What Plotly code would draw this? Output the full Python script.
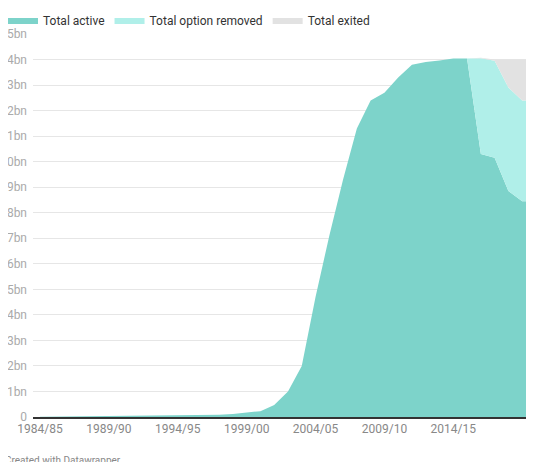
import plotly.graph_objects as go

years = list(range(1984, 2021))
active = [0.005, 0.01, 0.015, 0.02, 0.025, 0.03, 0.035, 0.04, 0.05, 0.055, 0.06, 0.065, 0.07, 0.09, 0.12, 0.16, 0.23,
          0.47, 1.0, 2.0, 4.7, 7.1, 9.3, 11.3, 12.4, 12.7, 13.3, 13.8, 13.9, 13.96, 14.04, 14.04,
          10.3, 10.15, 8.85, 8.45, 8.45]
removed = [0]*31 + [0, 3.75, 3.8, 4.05, 3.95, 3.95]
exited = [0]*31 + [0, 0.02, 0.05, 1.1, 1.6, 1.6]
tick_years = list(range(1984, 2020, 5))
tick_text = [f"{y}/{str(y+1)[-2:]}" for y in tick_years]
y_ticks = list(range(0, 16))
y_text = ["0"] + [f"{v}bn" for v in y_ticks[1:]]

fig = go.Figure()
for name, vals, col in [("Total active", active, "#7dd3ca"),
                        ("Total option removed", removed, "#b0efe9"),
                        ("Total exited", exited, "#e2e2e2")]:
    fig.add_trace(go.Scatter(x=years, y=vals, name=name, stackgroup="one", mode="lines",
                             line=dict(width=0, color=col), fillcolor=col))

W, H = 534, 462
fig.update_layout(
    width=W, height=H, margin=dict(l=25, r=0, t=26, b=53, autoexpand=False),
    paper_bgcolor="white", plot_bgcolor="white",
    font=dict(family="Roboto", size=12, color="#888"),
    showlegend=True,
    legend=dict(orientation="h", x=-30/509, xanchor="left", y=1+14/383, yanchor="middle",
                font=dict(size=12, color="#333"), traceorder="normal", tracegroupgap=0,
                bgcolor="rgba(0,0,0,0)"),
    xaxis=dict(range=[1983.49, 2020.44], tickvals=tick_years, ticktext=tick_text, showgrid=False,
               showline=True, linecolor="#333", linewidth=1.5, ticks="", automargin=False,
               tickfont=dict(size=12, color="#888"), zeroline=False),
    yaxis=dict(range=[0, 15], tickvals=y_ticks, ticktext=y_text, showgrid=True, gridcolor="#e6e6e6",
               ticks="", automargin=False, zeroline=False, ticklabelstandoff=5,
               tickfont=dict(size=12, color="#aaa")),
    annotations=[dict(text="Created with Datawrapper", xref="paper", yref="paper",
                      x=-30/509, y=-43/383, xanchor="left", yanchor="middle", showarrow=False,
                      font=dict(size=10, color="#888"))],
)
fig.write_html("out.html")
